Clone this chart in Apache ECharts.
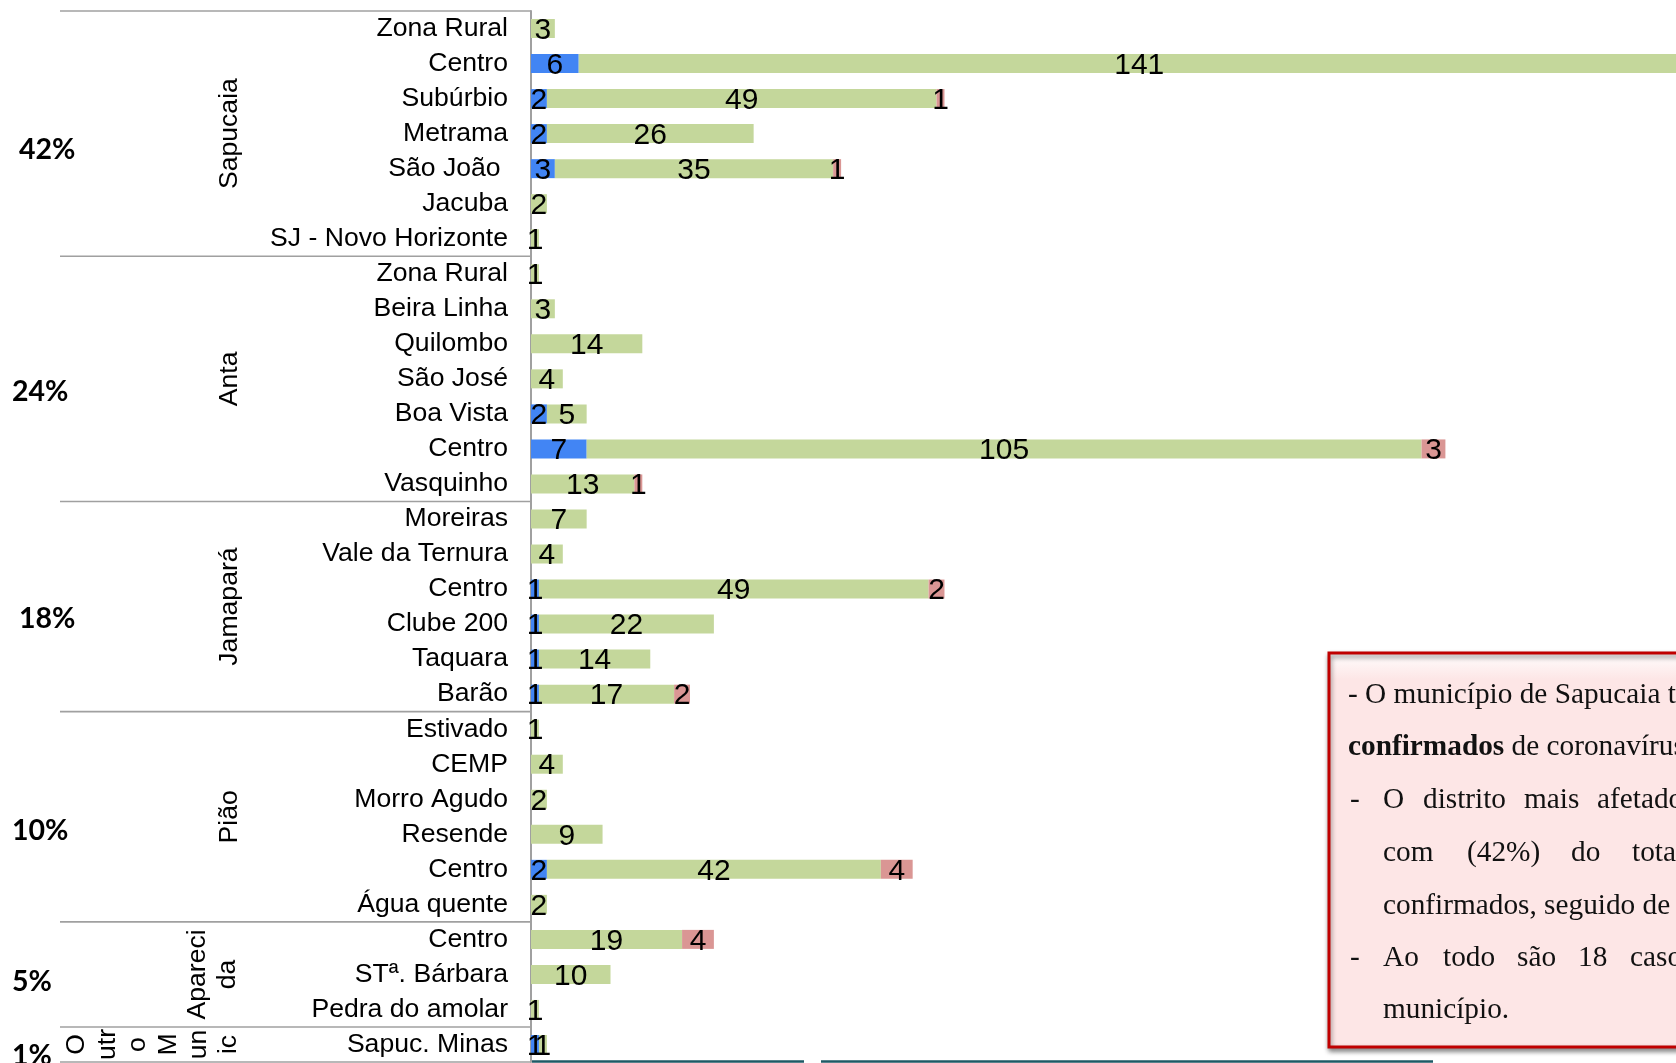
<!DOCTYPE html>
<html><head><meta charset="utf-8">
<script src="https://cdn.jsdelivr.net/npm/echarts@6.0.0/dist/echarts.min.js"></script>
<style>html,body{margin:0;padding:0;background:#fff;overflow:hidden}#c{width:1676px;height:1063px}</style>
</head><body><div id="c"></div>
<script>
const categories = ['Zona Rural','Centro','Subúrbio','Metrama','São João ','Jacuba','SJ - Novo Horizonte',
  'Zona Rural','Beira Linha','Quilombo','São José','Boa Vista','Centro','Vasquinho',
  'Moreiras','Vale da Ternura','Centro','Clube 200','Taquara','Barão',
  'Estivado','CEMP','Morro Agudo','Resende','Centro','Água quente',
  'Centro','STª. Bárbara','Pedra do amolar',
  'Sapuc. Minas'];
const blueValues  = [null,6,2,2,3,null,null, null,null,null,null,2,7,null, null,null,1,1,1,1, null,null,null,null,2,null, null,null,null, 1];
const greenValues = [3,141,49,26,35,2,1, 1,3,14,4,5,105,13, 7,4,49,22,14,17, 1,4,2,9,42,2, 19,10,1, 1];
const redValues   = [null,null,1,null,1,null,null, null,null,null,null,null,3,1, null,null,2,null,null,2, null,null,null,null,4,null, 4,null,null, null];
const groupNames  = ['Sapucaia','Anta','Jamapará','Pião','Apareci\nda','O\nutr\no\nM\nun\nic'];
const groupSizes  = [7,7,6,6,3,1];
const groupShares = ['42%','24%','18%','10%','5%','1%'];
const noteLines = [
  ['- O município de Sapucaia tem'],
  ['{b|confirmados} de coronavírus'],
  ['-','O','distrito','mais','afetado'],
  ['com','(42%)','do','total'],
  ['confirmados, seguido de'],
  ['-','Ao','todo','são','18','casos'],
  ['município.']
];

// layout constants (not data)
const shareX = [19, 12, 19, 12, 12, 12];
const shareDy = [16, 13, 12, 14, 7, 11];
const groupX = [230, 230, 230, 230, 213, 153];

const font = 'Liberation Sans, Arial, sans-serif';
const labelStyle = {show:true, position:'inside', offset:[0,2], color:'#000', fontSize:30, fontFamily:font,
  formatter: p => (p.value == null ? '' : p.value)};
const chart = echarts.init(document.getElementById('c'));
chart.setOption({
  animation:false,
  backgroundColor:'#fff',
  grid:{left:531, right:0, top:11, bottom:1, containLabel:false, outerBoundsMode:'none'},
  xAxis:{type:'value', min:0, max:144, show:false},
  yAxis:{type:'category', data:categories, inverse:true,
    axisLine:{show:true, lineStyle:{color:'#a0a0a0', width:2}},
    axisTick:{show:false}, splitLine:{show:false},
    axisLabel:{interval:0, fontSize:26.6, color:'#000', fontFamily:font, margin:23}},
  series:[
    {type:'bar', stack:'t', data:blueValues, barWidth:19, clip:false, itemStyle:{color:'#4285f4'}, label:labelStyle},
    {type:'bar', stack:'t', data:greenValues, barWidth:19, clip:false, itemStyle:{color:'#c4d79b'}, label:labelStyle},
    {type:'bar', stack:'t', data:redValues, barWidth:19, clip:false, itemStyle:{color:'#da9694'}, label:labelStyle}
  ]
});

const yOf = i => chart.convertToPixel({yAxisIndex:0}, i);
const step = yOf(1) - yOf(0);
const g = [];
const lineCol = '#a0a0a0';
let start = 0;
groupSizes.forEach((n, k) => {
  const end = start + n - 1;
  const top = yOf(start) - step/2;
  g.push({type:'line', shape:{x1:60, y1:top, x2:531, y2:top}, style:{stroke:lineCol, lineWidth:1.6}, z:5});
  const cy = (yOf(start) + yOf(end)) / 2;
  g.push({type:'text', x:groupX[k], y:cy, rotation:Math.PI/2, z:5,
    style:{text:groupNames[k], align:'center', verticalAlign:'middle', fontSize:26.6, lineHeight:(k === 5 ? 30.4 : 30), fontFamily:font, fill:'#000'}});
  g.push({type:'text', x:shareX[k], y:cy + shareDy[k], z:5,
    style:{text:groupShares[k], align:'left', verticalAlign:'middle', fontSize:28.5, fontWeight:'bold', fontFamily:'Lato, Carlito, sans-serif', fill:'#000'}});
  start += n;
});
const bottom = yOf(categories.length - 1) + step/2;
g.push({type:'line', shape:{x1:60, y1:bottom, x2:531, y2:bottom}, style:{stroke:lineCol, lineWidth:1.6}, z:5});

// note box
g.push({type:'rect', shape:{x:1329, y:653, width:420, height:394}, z:6,
  style:{fill:new echarts.graphic.LinearGradient(0,0,0,1,[{offset:0,color:'#ffffff'},{offset:0.07,color:'#fde6e6'},{offset:1,color:'#fde6e6'}]),
    stroke:'#c00000', lineWidth:3, shadowBlur:5, shadowOffsetX:1, shadowOffsetY:3, shadowColor:'rgba(0,0,0,0.45)'}});
const serif = 'Liberation Serif, Times New Roman, serif';
const lineY = [695, 747, 800, 853, 906, 958, 1010];
const wordX = [
  [1348],
  [1348],
  [1350,1383,1423,1524,1597],
  [1383,1467,1571,1632],
  [1383],
  [1350,1383,1443,1517,1578,1630],
  [1383]
];
noteLines.forEach((words, i) => {
  words.forEach((w, j) => {
    g.push({type:'text', x:wordX[i][j], y:lineY[i], z:7,
      style:{text:w, align:'left', verticalAlign:'middle', fontSize:29.3, fontFamily:serif, fill:'#111',
        rich:{b:{fontSize:29.3, fontFamily:serif, fontWeight:'bold', fill:'#111'}}}});
  });
});
// bottom teal strokes
g.push({type:'line', shape:{x1:532, y1:1061.5, x2:804, y2:1061.5}, style:{stroke:'#1f5a66', lineWidth:2.5}, z:6});
g.push({type:'line', shape:{x1:821, y1:1061.5, x2:1433, y2:1061.5}, style:{stroke:'#1f5a66', lineWidth:2.5}, z:6});

chart.setOption({graphic:g});
</script>
</body></html>
